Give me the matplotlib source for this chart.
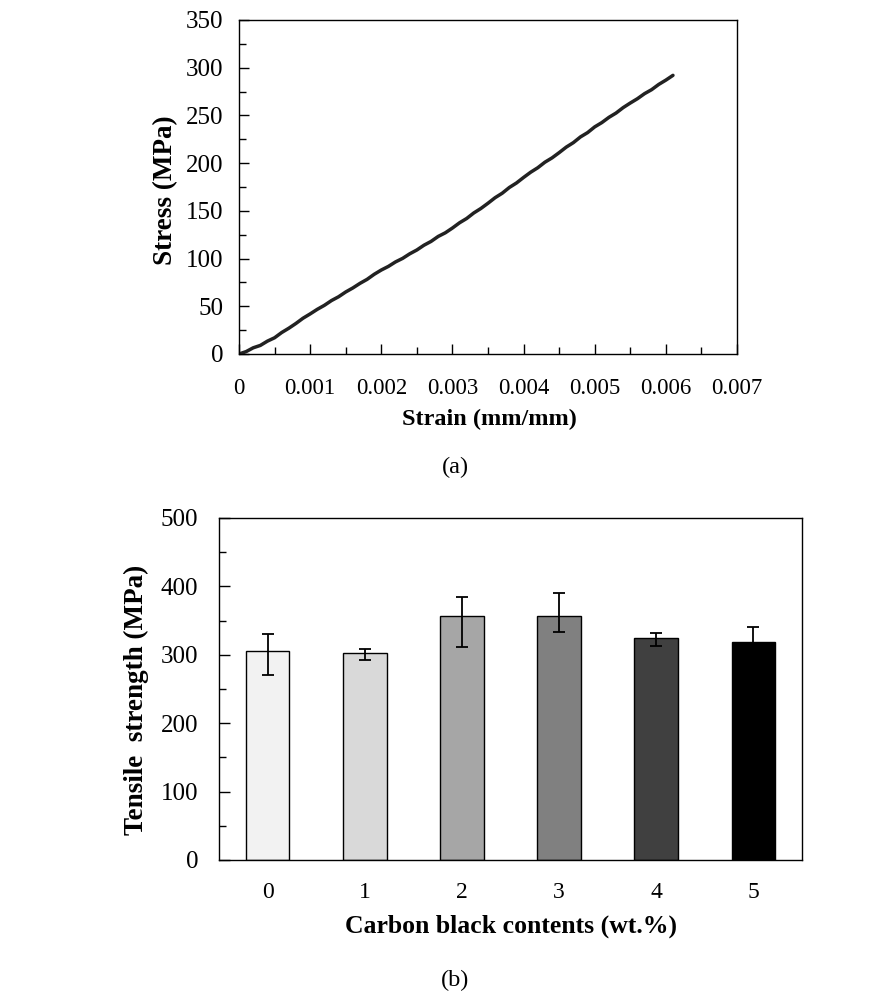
import numpy as np
import matplotlib
matplotlib.use('Agg')
import matplotlib.pyplot as plt
from matplotlib.ticker import MultipleLocator, FixedLocator

plt.rcParams['font.family'] = ['Liberation Serif', 'DejaVu Serif']
plt.rcParams['font.size'] = 17

# (a) stress-strain curve
strain = [0, 0.0001, 0.0002, 0.0003, 0.0004, 0.0005, 0.0006, 0.0007, 0.0008, 0.0009,
          0.0010, 0.0011, 0.0012, 0.0013, 0.0014, 0.0015, 0.0016, 0.0017, 0.0018, 0.0019,
          0.0020, 0.0021, 0.0022, 0.0023, 0.0024, 0.0025, 0.0026, 0.0027, 0.0028, 0.0029,
          0.0030, 0.0031, 0.0032, 0.0033, 0.0034, 0.0035, 0.0036, 0.0037, 0.0038, 0.0039,
          0.0040, 0.0041, 0.0042, 0.0043, 0.0044, 0.0045, 0.0046, 0.0047, 0.0048, 0.0049,
          0.0050, 0.0051, 0.0052, 0.0053, 0.0054, 0.0055, 0.0056, 0.0057, 0.0058, 0.0059,
          0.0060, 0.0061]
stress = [0, 2.5, 6.5, 9, 13.5, 17, 22.5, 27, 32, 37.5,
          42, 46.8, 51, 56, 60, 65, 69.2, 74, 78.2, 83.5,
          88, 91.8, 96.5, 100.2, 105, 109, 114, 118, 123.2, 127,
          132, 137.5, 142, 147.8, 152.5, 158, 163.8, 168.5, 174.5, 179.2,
          185, 190.5, 195.2, 201, 205.5, 211, 216.8, 221.5, 227.5, 232,
          238, 242.5, 248, 252.5, 258.2, 263, 267.5, 272.8, 277, 282.5,
          287, 292]
strain_ticks = [0, 0.001, 0.002, 0.003, 0.004, 0.005, 0.006, 0.007]
strain_labels = ['0', '0.001', '0.002', '0.003', '0.004', '0.005', '0.006', '0.007']

# (b) tensile strength
cb_content = ['0', '1', '2', '3', '4', '5']
strength = [306, 302, 357, 357, 324, 318]
err_low = [36, 9, 46, 23, 11, 23]
err_high = [25, 7, 28, 34, 8, 23]
bar_colors = ['#f2f2f2', '#d9d9d9', '#a6a6a6', '#808080', '#404040', '#000000']

W, H = 891, 1008
fig = plt.figure(figsize=(W / 100, H / 100), dpi=100)

ax1 = fig.add_axes([239/W, 1-354/H, (737-239)/W, (354-20)/H])
ax1.plot(strain, stress, color='#222222', lw=2.5, solid_capstyle='round')
ax1.set_xlim(0, 0.007)
ax1.set_ylim(0, 350)
ax1.xaxis.set_major_locator(FixedLocator(strain_ticks))
ax1.set_xticklabels(strain_labels)
ax1.xaxis.set_minor_locator(MultipleLocator(0.0005))
ax1.yaxis.set_major_locator(MultipleLocator(50))
ax1.yaxis.set_minor_locator(MultipleLocator(25))
ax1.tick_params(which='major', direction='in', length=7, width=1)
ax1.tick_params(which='minor', direction='in', length=5, width=1)
ax1.tick_params(axis='x', which='major', pad=17, labelsize=16.5)
ax1.tick_params(axis='y', which='major', pad=11, labelsize=18)
for s in ax1.spines.values():
    s.set_linewidth(1)

fig.text(489/W, 1-419/H, 'Strain (mm/mm)', ha='center', va='center',
         fontsize=17.5, fontweight='bold')
fig.text(166/W, 1-190/H, 'Stress (MPa)', ha='center', va='center',
         rotation=90, fontsize=19.5, fontweight='bold')
fig.text(455/W, 1-467/H, '(a)', ha='center', va='center', fontsize=17.5)

ax2 = fig.add_axes([219/W, 1-860/H, (802-219)/W, (860-518)/H])
x = np.arange(len(cb_content))
ax2.bar(x, strength, width=0.45, color=bar_colors, edgecolor='black', linewidth=1,
        yerr=[err_low, err_high], capsize=4,
        error_kw=dict(ecolor='black', elinewidth=1.3, capthick=1.3))
ax2.set_xlim(-0.5, 5.5)
ax2.set_ylim(0, 500)
ax2.set_xticks(x)
ax2.set_xticklabels(cb_content)
ax2.yaxis.set_major_locator(MultipleLocator(100))
ax2.yaxis.set_minor_locator(MultipleLocator(50))
ax2.tick_params(axis='x', length=0, pad=16, labelsize=17)
ax2.tick_params(axis='y', which='major', direction='in', length=8, width=1,
                pad=15, labelsize=18)
ax2.tick_params(axis='y', which='minor', direction='in', length=5, width=1)
for s in ax2.spines.values():
    s.set_linewidth(1)

fig.text(511/W, 1-926/H, 'Carbon black contents (wt.%)', ha='center', va='center',
         fontsize=18.5, fontweight='bold')
fig.text(136/W, 1-700/H, 'Tensile  strength (MPa)', ha='center', va='center',
         rotation=90, fontsize=19.5, fontweight='bold')
fig.text(455/W, 1-980/H, '(b)', ha='center', va='center', fontsize=17.5)

fig.savefig('out.png', dpi=100, facecolor='white')
